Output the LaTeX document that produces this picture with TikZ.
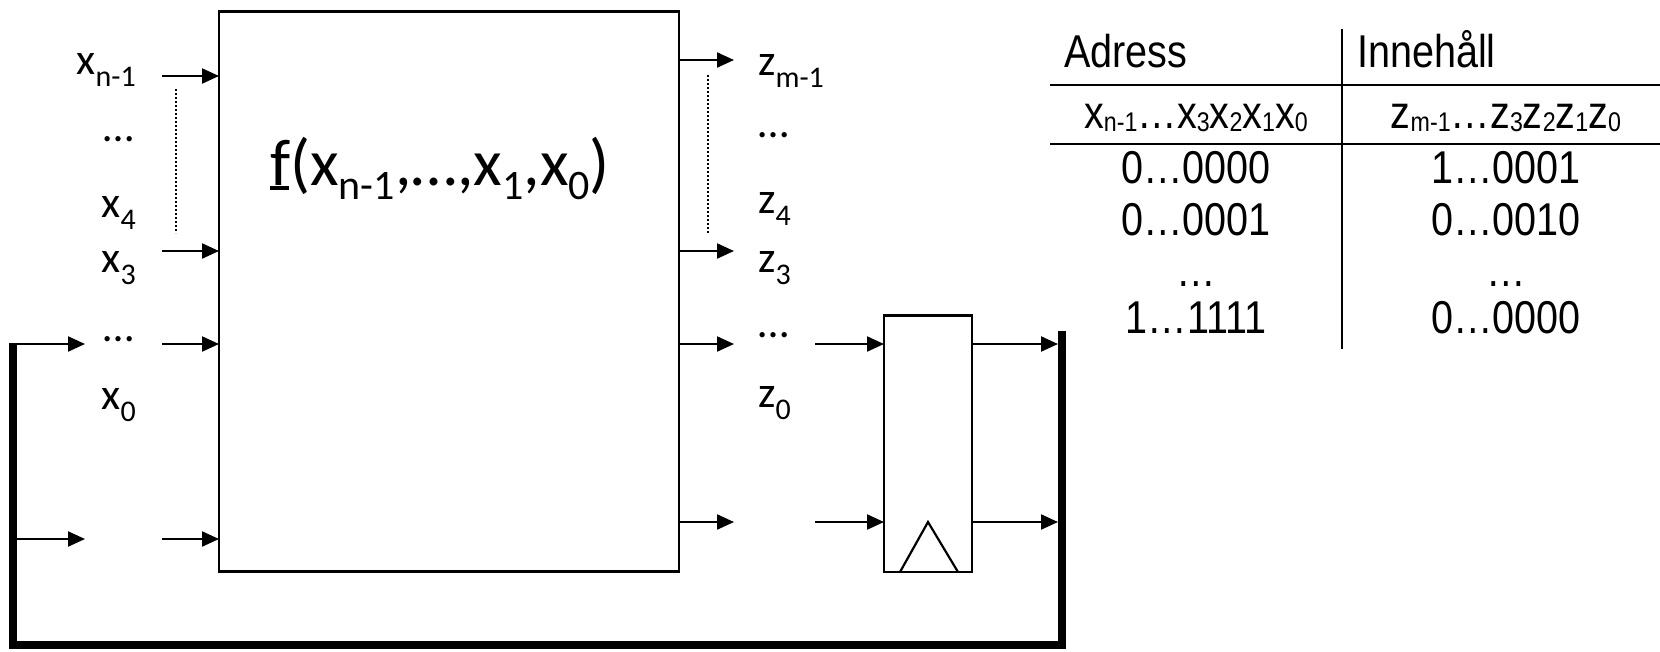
\documentclass[tikz,border=0pt]{standalone}
\usepackage{fontspec}
\setmainfont{Carlito}
\newfontfamily\tabfont[FakeStretch=0.86]{Liberation Sans}
\usetikzlibrary{arrows.meta}
\newcommand{\lsub}[1]{\raisebox{-12pt}{\fontsize{30}{30}\selectfont #1}}
\newcommand{\bsub}[1]{\raisebox{-14pt}{\fontsize{42}{42}\selectfont #1}}
\newcommand{\tsub}[1]{\raisebox{-3pt}{\fontsize{27}{27}\selectfont #1}}
\begin{document}
\begin{tikzpicture}[x=1pt,y=-1pt,
  arr/.style={line width=2.2pt,-{Triangle[length=17pt,width=15pt]}},
  busline/.style={line width=8pt,line join=miter,line cap=butt},
  dotline/.style={line width=2pt,dash pattern=on 2pt off 2pt},
  tline/.style={line width=2.2pt},
  lbl/.style={inner sep=0pt,font=\fontsize{44}{48}\selectfont},
  tab/.style={inner sep=0pt,font=\tabfont\fontsize{46}{50}\selectfont},
  blk/.style={draw,line width=2.4pt,inner sep=0pt,outer sep=0pt,anchor=north west}]
\useasboundingbox (0,0) rectangle (1660,651);

% main combinational block
\node[blk,minimum width=460pt,minimum height=560pt] (F) at (219,11.6) {};
\node[inner sep=0pt,anchor=base west,font=\fontsize{66}{70}\selectfont] (ftxt) at (270,185)
  {\rlap{\rule[-5pt]{19pt}{4.5pt}}f(x\bsub{n-1},…,x\bsub{1},x\bsub{0})};

% register
\node[blk,minimum width=88pt,minimum height=256.5pt] (R) at (884,315.5) {};
\draw[tline,line join=miter] ([xshift=16pt]R.south west) -- ([xshift=44pt,yshift=50pt]R.south west) -- ([xshift=74pt]R.south west);

% input labels
\node[lbl,anchor=base east] (lx1) at (136,74) {x\lsub{n-1}};
\node[lbl,anchor=base east] (ld1) at (134,141) {…};
\node[lbl,anchor=base east] (lx4) at (136,217) {x\lsub{4}};
\node[lbl,anchor=base east] (lx3) at (136,272) {x\lsub{3}};
\node[lbl,anchor=base east] (ld2) at (134,341) {…};
\node[lbl,anchor=base east] (lx0) at (136,409) {x\lsub{0}};

% output labels
\node[lbl,anchor=base west] (rz1) at (758,75) {z\lsub{m-1}};
\node[lbl,anchor=base west] (rd1) at (758,137) {…};
\node[lbl,anchor=base west] (rz4) at (758,213) {z\lsub{4}};
\node[lbl,anchor=base west] (rz3) at (758,272) {z\lsub{3}};
\node[lbl,anchor=base west] (rd2) at (758,337) {…};
\node[lbl,anchor=base west] (rz0) at (758,407) {z\lsub{0}};

% input arrows
\coordinate (in1) at (162,76);
\coordinate (in2) at (162,251);
\coordinate (in3) at (162,344);
\coordinate (in4) at (162,539);
\foreach \c in {in1,in2,in3,in4} \draw[arr] (\c) -- (\c -| F.west);

% output arrows
\coordinate (out1) at (734,60);
\coordinate (out2) at (734,251);
\coordinate (out3) at (734,344);
\coordinate (out4) at (734,522);
\foreach \c in {out1,out2,out3,out4} \draw[arr] (\c -| F.east) -- (\c);

% dotted lines
\coordinate (dl1) at (176,89);
\coordinate (dl2) at (176,233);
\coordinate (dr1) at (708,75);
\coordinate (dr2) at (708,233);
\draw[dotline] (dl1) -- (dl2);
\draw[dotline] (dr1) -- (dr2);

% register in/out
\coordinate (rin1) at (815,344);
\coordinate (rin2) at (815,522);
\coordinate (rbar) at (1058,331);
\draw[arr] (rin1) -- (rin1 -| R.west);
\draw[arr] (rin2) -- (rin2 -| R.west);
\draw[arr] (rin1 -| R.east) -- (rin1 -| rbar);
\draw[arr] (rin2 -| R.east) -- (rin2 -| rbar);

% feedback bus
\coordinate (rbT) at (1062,331);
\coordinate (rbB) at (1062,645);
\coordinate (lbB) at (13,645);
\coordinate (lbT) at (13,344);
\coordinate (lb2) at (13,539);
\coordinate (fb1) at (85,344);
\coordinate (fb2) at (85,539);
\draw[busline] (rbT) -- (rbB) -- (lbB) -- ([yshift=1pt]lbT);
\draw[arr] ([xshift=-2pt]lbT) -- (fb1);
\draw[arr] (lb2) -- (fb2);

% table
\draw[tline] (1342,28.6) -- (1342,349);
\draw[tline] (1050,85) -- (1660,85);
\draw[tline] (1050,144) -- (1660,144);
\node[tab,anchor=base west] (hA) at (1064,67) {Adress};
\node[tab,anchor=base west] (hI) at (1357,67) {Innehåll};
\node[tab,anchor=base] (sx) at (1196,128) {x\tsub{n-1}…x\tsub{3}x\tsub{2}x\tsub{1}x\tsub{0}};
\node[tab,anchor=base] (sz) at (1506,128) {z\tsub{m-1}…z\tsub{3}z\tsub{2}z\tsub{1}z\tsub{0}};
\node[tab,anchor=base] (a1) at (1196,183) {0…0000};
\node[tab,anchor=base] (a2) at (1196,235) {0…0001};
\node[tab,anchor=base] (a3) at (1196,286) {…};
\node[tab,anchor=base] (a4) at (1196,333) {1…1111};
\node[tab,anchor=base] (c1) at (1506,183) {1…0001};
\node[tab,anchor=base] (c2) at (1506,235) {0…0010};
\node[tab,anchor=base] (c3) at (1506,286) {…};
\node[tab,anchor=base] (c4) at (1506,333) {0…0000};
\end{tikzpicture}
\end{document}
